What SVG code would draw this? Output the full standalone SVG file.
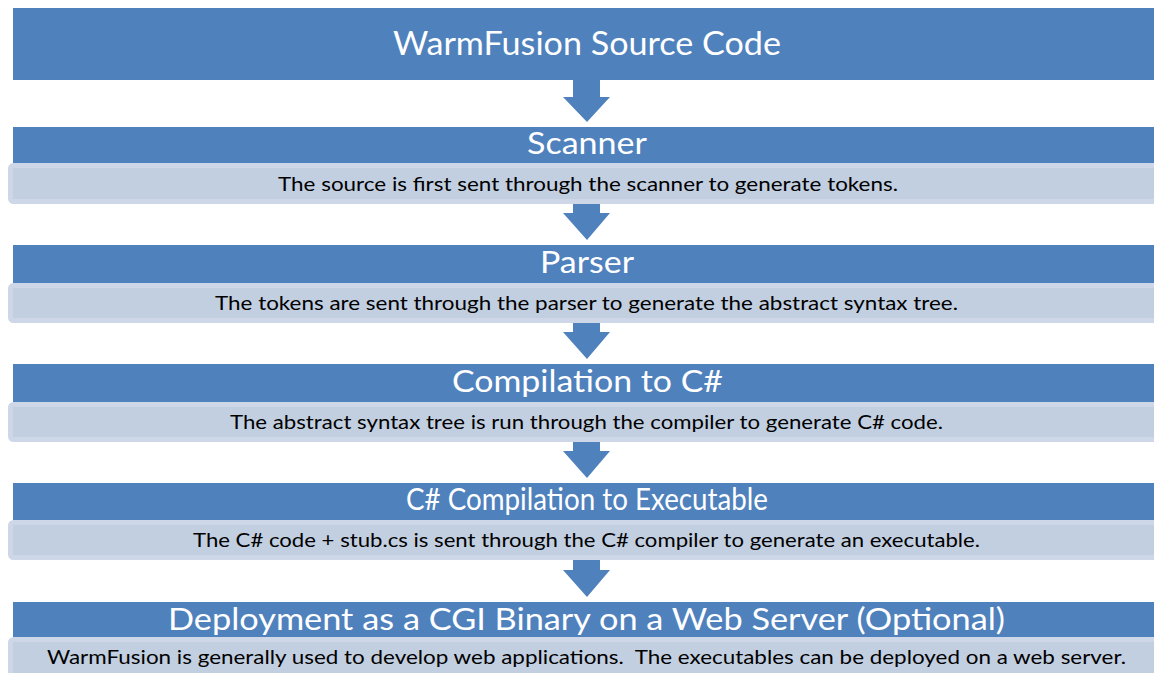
<svg xmlns="http://www.w3.org/2000/svg" width="1154" height="673" viewBox="0 0 1154 673">
  <style>
    .bar { fill: #4F81BD; }
    .note { fill: #C2CFE1; stroke: #CED7E8; stroke-width: 5; }
    .arrow { fill: #4F81BD; }
    .title { font-family: Lato, "Open Sans", "Liberation Sans", sans-serif; font-size: 32px; fill: #FFFFFF; text-anchor: middle; }
    .head { font-family: Lato, "Open Sans", "Liberation Sans", sans-serif; font-size: 30px; fill: #FFFFFF; text-anchor: middle; }
    .desc { font-family: Lato, "Open Sans", "Liberation Sans", sans-serif; font-size: 19px; fill: #000000; text-anchor: middle; white-space: pre; }
  </style>
  <rect width="1154" height="673" fill="#FFFFFF"/>

  <!-- downward arrows between the stages -->
  <g id="connectors">
    <path class="arrow" d="M573,80 H600 V97 H610 L587,122 L563,97 H573 Z"/>
    <path class="arrow" d="M573,204 H600 V213 H610 L587,240 L563,213 H573 Z"/>
    <path class="arrow" d="M573,323 H600 V332 H610 L587,359 L563,332 H573 Z"/>
    <path class="arrow" d="M573,442 H600 V451 H610 L587,478 L563,451 H573 Z"/>
    <path class="arrow" d="M573,560 H600 V570 H610 L587,597 L563,570 H573 Z"/>
  </g>

  <g id="source">
    <rect class="bar" x="13" y="8" width="1150" height="72"/>
    <text class="title" x="587" y="55" textLength="388" lengthAdjust="spacingAndGlyphs">WarmFusion Source Code</text>
  </g>

  <g id="scanner">
    <rect class="note" x="10.5" y="165.5" width="1150" height="36" rx="3"/>
    <rect class="bar" x="13" y="127" width="1150" height="36"/>
    <text class="head" x="587" y="154" textLength="120" lengthAdjust="spacingAndGlyphs">Scanner</text>
    <text class="desc" x="588" y="191" textLength="620" lengthAdjust="spacingAndGlyphs">The source is first sent through the scanner to generate tokens.</text>
  </g>

  <g id="parser">
    <rect class="note" x="10.5" y="285.5" width="1150" height="35" rx="3"/>
    <rect class="bar" x="13" y="245" width="1150" height="38"/>
    <text class="head" x="587" y="273" textLength="94" lengthAdjust="spacingAndGlyphs">Parser</text>
    <text class="desc" x="586.5" y="310" textLength="743" lengthAdjust="spacingAndGlyphs">The tokens are sent through the parser to generate the abstract syntax tree.</text>
  </g>

  <g id="compile-cs">
    <rect class="note" x="10.5" y="404.5" width="1150" height="35" rx="3"/>
    <rect class="bar" x="13" y="364" width="1150" height="38"/>
    <text class="head" x="587.5" y="392" textLength="271" lengthAdjust="spacingAndGlyphs">Compilation to C#</text>
    <text class="desc" x="586.5" y="429" textLength="713" lengthAdjust="spacingAndGlyphs">The abstract syntax tree is run through the compiler to generate C# code.</text>
  </g>

  <g id="compile-exe">
    <rect class="note" x="10.5" y="522.5" width="1150" height="35" rx="3"/>
    <rect class="bar" x="13" y="483" width="1150" height="37"/>
    <text class="head" x="587" y="510" font-size="28" textLength="362" lengthAdjust="spacingAndGlyphs">C# Compilation to Executable</text>
    <text class="desc" x="586.5" y="547" textLength="787" lengthAdjust="spacingAndGlyphs">The C# code + stub.cs is sent through the C# compiler to generate an executable.</text>
  </g>

  <g id="deployment">
    <rect class="note" x="10.5" y="639.5" width="1150" height="40" rx="3"/>
    <rect class="bar" x="13" y="602" width="1150" height="35"/>
    <text class="head" x="586.5" y="630" textLength="837" lengthAdjust="spacingAndGlyphs">Deployment as a CGI Binary on a Web Server (Optional)</text>
    <text class="desc" x="586.5" y="664" textLength="1079" lengthAdjust="spacingAndGlyphs">WarmFusion is generally used to develop web applications.  The executables can be deployed on a web server.</text>
  </g>
</svg>
